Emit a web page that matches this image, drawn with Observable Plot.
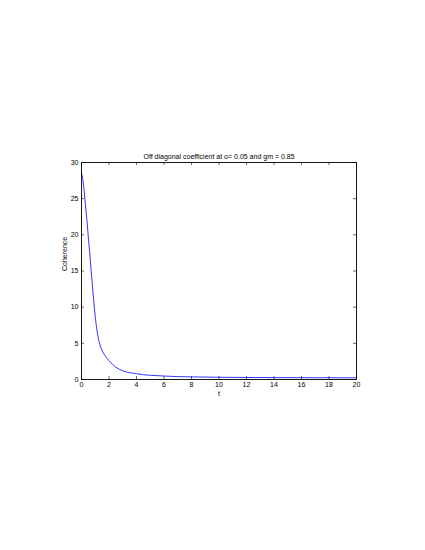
<!DOCTYPE html>
<html>
<head>
<meta charset="utf-8">
<script src="https://cdn.jsdelivr.net/npm/d3@7"></script>
<script src="https://cdn.jsdelivr.net/npm/@observablehq/plot@0.6"></script>
<style>
  html, body { margin: 0; padding: 0; background: #fff; }
  svg { display: block; }
</style>
</head>
<body>
<div id="chart"></div>
<script>
const titleText = "Off diagonal coefficient at o= 0.05 and gm = 0.85";
const xLabel = "t";
const yLabel = "Coherence";
const tValues = [0, 0.1, 0.2, 0.3, 0.4, 0.5, 0.6, 0.7, 0.8, 0.9, 1.0, 1.1, 1.25, 1.5, 1.75, 2, 2.25, 2.5, 3, 3.5, 4, 4.5, 5, 6, 7, 8, 10, 12, 14, 16, 18, 20];
const coherence = [28.5, 27.6, 25.9, 23.8, 21.9, 19.6, 17.4, 15.1, 12.8, 10.6, 8.7, 7.1, 5.5, 4.0, 3.2, 2.6, 2.1, 1.7, 1.2, 0.95, 0.8, 0.66, 0.58, 0.48, 0.40, 0.36, 0.31, 0.28, 0.26, 0.25, 0.24, 0.23];
const xTicks = [0, 2, 4, 6, 8, 10, 12, 14, 16, 18, 20];
const yTicks = [0, 5, 10, 15, 20, 25, 30];

const data = tValues.map((t, i) => ({t, c: coherence[i]}));

const W = 425, H = 550;
const mL = 81, mR = 69, mT = 162, mB = 171;
const fw = W - mL - mR, fh = H - mT - mB;
const tick = 3;

const chart = Plot.plot({
  width: W,
  height: H,
  marginLeft: mL,
  marginRight: mR,
  marginTop: mT,
  marginBottom: mB,
  style: {fontFamily: "'Liberation Sans', Arial, sans-serif", fontSize: "7px", color: "#000", background: "#fff"},
  x: {domain: [0, 20], ticks: xTicks, label: null},
  y: {domain: [0, 30], ticks: yTicks, label: null},
  marks: [
    Plot.line(data, {x: "t", y: "c", stroke: "#0000ff", strokeWidth: 0.8, curve: "monotone-x"}),
    // inside ticks
    Plot.tickX(xTicks, {x: d => d, stroke: "#000", strokeWidth: 0.6, insetTop: fh - tick}),
    Plot.tickX(xTicks, {x: d => d, stroke: "#000", strokeWidth: 0.6, insetBottom: fh - tick}),
    Plot.tickY(yTicks, {y: d => d, stroke: "#000", strokeWidth: 0.6, insetRight: fw - tick}),
    Plot.tickY(yTicks, {y: d => d, stroke: "#000", strokeWidth: 0.6, insetLeft: fw - tick}),
    Plot.axisX({ticks: xTicks, tickSize: 0, tickPadding: 3, fontSize: 7, tickFormat: d => String(d)}),
    Plot.axisY({ticks: yTicks, tickSize: 0, tickPadding: 3, fontSize: 7, tickFormat: d => String(d)}),
    Plot.frame({stroke: "#000", strokeWidth: 0.9}),
    Plot.text([titleText], {frameAnchor: "top", dy: -8, text: d => d, fontSize: 7, fill: "#000"}),
    Plot.text([xLabel], {frameAnchor: "bottom", dy: 12, lineAnchor: "top", text: d => d, fontSize: 7, fill: "#000"}),
    Plot.text([yLabel], {frameAnchor: "left", dx: -17, rotate: -90, text: d => d, fontSize: 7, fill: "#000"})
  ]
});
document.getElementById("chart").appendChild(chart);
</script>
</body>
</html>
